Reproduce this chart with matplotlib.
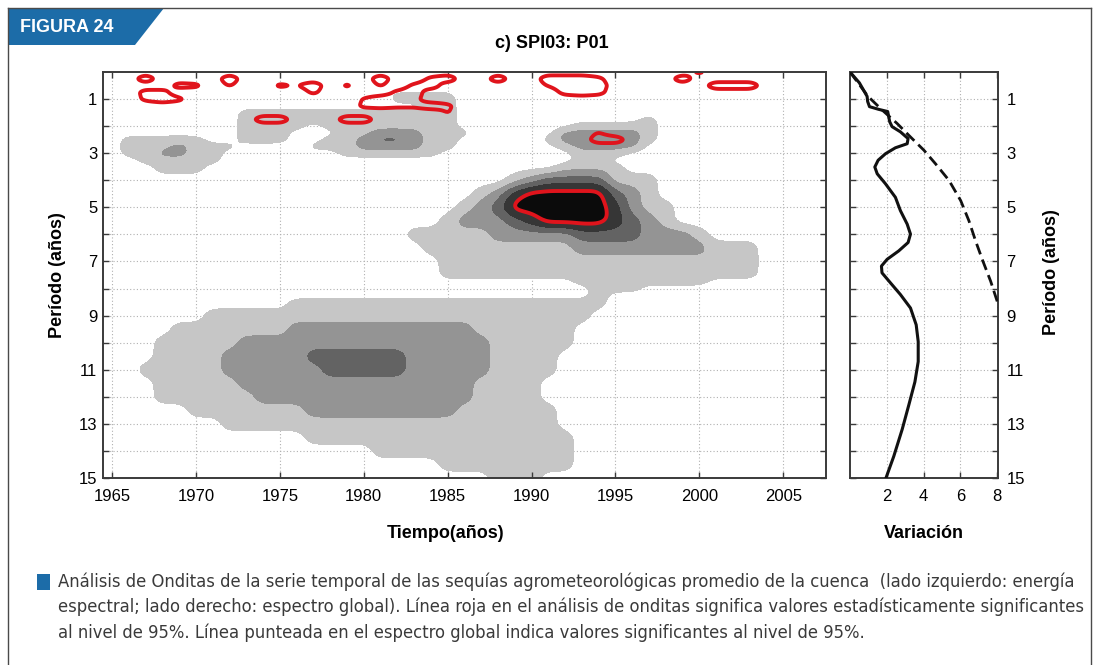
import numpy as np
import matplotlib
matplotlib.use('Agg')
import matplotlib.pyplot as plt
from matplotlib import font_manager
from matplotlib.patches import Polygon, Rectangle
from matplotlib.lines import Line2D

plt.rcParams['font.family'] = ['Liberation Sans', 'DejaVu Sans']

# ---------------- data ----------------
# columns of the wavelet maps: one per year, 1964..2008 (blocks of 5 years)
years = np.arange(1964, 2009)

# wavelet power class (0 white .. 5 black), one string per period row
periods = [0, 0.5, 1, 1.25, 1.5, 1.75, 2, 2.25, 2.5, 2.75, 3, 3.25, 3.5,
           4, 4.5, 5, 5.5, 6, 6.5, 7, 7.5, 7.75, 8, 8.25, 8.5,
           9, 9.5, 10, 10.5, 11, 11.5, 12, 12.5, 13, 13.5, 14, 14.5, 15]
power_rows = [
    "00000 00000 00000 00000 00000 00000 00000 00000 00000",  # 0
    "00000 00000 00000 00000 00000 00000 00000 00000 00000",  # 0.5
    "00000 00000 00000 00011 11000 00000 00000 00000 00000",  # 1
    "00000 00000 00000 00000 11000 00000 00000 00000 00000",  # 1.25
    "00000 00001 11111 11111 11000 00000 00000 00000 00000",  # 1.5
    "00000 00001 11111 11111 11000 00000 00010 00000 01000",  # 1.75
    "00000 00001 11101 11111 11000 00001 11110 00000 00000",  # 2
    "00000 00001 11000 11222 11100 00022 22210 00000 00000",  # 2.25
    "00111 11001 11001 12332 11000 00122 22210 00000 00000",  # 2.5
    "00111 21110 00011 12222 11000 00012 22200 00000 00000",  # 2.75
    "00112 21100 00000 11111 10000 00001 11000 00000 00000",  # 3
    "00011 11100 00000 00000 00000 00001 10000 00000 00000",  # 3.25
    "00001 11000 00000 00000 00000 00011 11000 00000 00000",  # 3.5
    "00000 00000 00000 00000 00000 12333 31110 00000 00000",  # 4
    "00000 00000 00000 00000 00012 45555 53210 00000 00000",  # 4.5
    "00000 00000 00000 00000 00123 55555 54211 00000 00000",  # 5
    "00000 00000 00000 00000 01222 34555 54321 00000 00000",  # 5.5
    "00000 00000 00000 00001 11112 22223 33322 21000 00000",  # 6
    "00000 00000 00000 00000 11111 11112 22222 22111 00000",  # 6.5
    "00000 00000 00000 00000 01111 11111 11111 11111 00000",  # 7
    "00000 00000 00000 00000 01111 11111 11111 11111 00000",  # 7.5
    "00000 00000 00000 00000 00000 00001 11111 11000 00000",  # 7.75
    "00000 00000 00000 00000 00000 00000 11100 00000 00000",  # 8
    "00000 00000 00000 00000 00000 00000 10000 00000 00000",  # 8.25
    "00000 00000 00111 11111 11111 11111 10000 00000 00000",  # 8.5
    "00000 00111 11111 11111 11111 11111 00000 00000 00000",  # 9
    "00000 11111 11222 22222 22211 11110 00000 00000 00000",  # 9.5
    "00001 11112 22222 22222 22221 11110 00000 00000 00000",  # 10
    "00001 11122 22233 33332 22221 11100 00000 00000 00000",  # 10.5
    "00011 11122 22223 33332 22221 11100 00000 00000 00000",  # 11
    "00001 11112 22222 22222 22211 11000 00000 00000 00000",  # 11.5
    "00001 11111 22222 22222 22211 11000 00000 00000 00000",  # 12
    "00000 01111 11122 22222 22111 11100 00000 00000 00000",  # 12.5
    "00000 00011 11111 11111 11111 11100 00000 00000 00000",  # 13
    "00000 00000 00011 11111 11111 11110 00000 00000 00000",  # 13.5
    "00000 00000 00000 00111 11111 11110 00000 00000 00000",  # 14
    "00000 00000 00000 00000 01111 11110 00000 00000 00000",  # 14.5
    "00000 00000 00000 00000 00001 11000 00000 00000 00000",  # 15
]

# 95% significance strength (0..9, contour at 4.5) in the short periods
sig_periods = [0, 0.25, 0.5, 0.75, 1, 1.25, 1.5, 1.75, 2, 2.25, 2.5, 2.75, 3]
sig_rows = [
    "00000 00000 00000 00000 00000 00000 00000 06000 00000",  # 0
    "00090 00090 00000 00900 69009 00999 60000 90000 00000",  # 0.25
    "00000 76050 06490 60506 90000 00599 90000 00999 00000",  # 0.5
    "00077 00000 00060 00069 00000 00079 70000 00000 00000",  # 0.75
    "00069 60000 00000 05997 00000 00000 00000 00000 00000",  # 1
    "00000 00000 00000 06766 96000 00000 00000 00000 00000",  # 1.25
    "00000 00000 00000 00000 05000 00000 00000 00000 00000",  # 1.5
    "00000 00000 99000 99000 00000 00000 00000 00000 00000",  # 1.75
    "00000 00000 00000 00000 00000 00000 00000 00000 00000",  # 2
    "00000 00000 00000 00000 00000 00000 50000 00000 00000",  # 2.25
    "00000 00000 00000 00000 00000 00000 99000 00000 00000",  # 2.5
    "00000 00000 00000 00000 00000 00000 00000 00000 00000",  # 2.75
    "00000 00000 00000 00000 00000 00000 00000 00000 00000",  # 3
]

# global wavelet spectrum (solid) and 95% significance (dashed)
gws_period = [0.0, 0.40, 0.90, 1.09, 1.28, 1.38, 1.46, 1.84, 2.02, 2.21, 2.46,
              2.65, 2.80, 3.02, 3.26, 3.51, 3.76, 4.13, 4.63, 5.12, 5.62, 5.99,
              6.30, 6.61, 6.92, 7.17, 7.42, 7.79, 8.22, 8.72, 9.34, 9.96, 10.7,
              11.45, 12.3, 13.2, 14.2, 15.05]
gws_var = [0.0, 0.51, 0.93, 0.96, 1.06, 1.56, 2.05, 2.16, 2.29, 2.74, 3.16,
           3.11, 2.47, 1.93, 1.53, 1.35, 1.48, 1.93, 2.47, 2.74, 3.11, 3.29,
           3.16, 2.65, 2.02, 1.71, 1.74, 2.2, 2.74, 3.29, 3.6, 3.71, 3.71,
           3.53, 3.2, 2.84, 2.38, 1.93]
signif_period = [0.0, 0.9, 1.4, 1.9, 2.4, 2.89, 3.39, 4.0, 4.75, 5.5, 6.24,
                 6.99, 7.73, 8.48, 9.2]
signif_var = [0.0, 0.98, 1.74, 2.56, 3.29, 4.02, 4.65, 5.38, 6.02, 6.47, 6.83,
              7.23, 7.65, 8.01, 8.38]

caption = [
    "Análisis de Onditas de la serie temporal de las sequías agrometeorológicas promedio de la cuenca  (lado izquierdo: energía",
    "espectral; lado derecho: espectro global). Línea roja en el análisis de onditas significa valores estadísticamente significantes",
    "al nivel de 95%. Línea punteada en el espectro global indica valores significantes al nivel de 95%.",
]


def to_grid(rows):
    g = np.array([[int(c) for c in r.replace(' ', '')] for r in rows], float)
    assert g.shape[1] == len(years)
    return g


def smooth_field(xs, ys, grid, dx, dy, sx, sy):
    # resample the class map on a fine mesh and soften its corners,
    # so the filled contours come out rounded like the original plot
    fxs = np.arange(xs[0], xs[-1] + 1e-9, dx)
    fys = np.arange(ys[0], ys[-1] + 1e-9, dy)
    tmp = np.array([np.interp(fxs, xs, row) for row in grid])
    fine = np.array([np.interp(fys, ys, col) for col in tmp.T]).T
    for axis, s in ((1, sx), (0, sy)):
        n = int(3 * s) + 1
        k = np.exp(-0.5 * (np.arange(-n, n + 1) / s) ** 2)
        k /= k.sum()
        fine = np.apply_along_axis(
            lambda r: np.convolve(np.pad(r, n, mode='edge'), k, 'valid'), axis, fine)
    return fxs, fys, fine


power = to_grid(power_rows)
sig = to_grid(sig_rows)
assert power.shape[0] == len(periods) and sig.shape[0] == len(sig_periods)

px_, py_, power_f = smooth_field(years, periods, power, 0.1, 0.05, 3.0, 3.0)
sx_, sy_, sig_f = smooth_field(years, sig_periods, sig, 0.1, 0.025, 1.5, 1.5)

# ---------------- layout helpers (pixels of the 1099x665 picture) ----------------
W, H = 1099, 665
def fx(px): return px / W
def fy(py): return 1 - py / H

fig = plt.figure(figsize=(W / 100, H / 100), dpi=100)
spine_col = '#3a3a3a'
red = '#e0141c'
grays = ['#c6c6c6', '#949494', '#636363', '#363636', '#0b0b0b']
grid_kw = dict(color='#b0b0b0', lw=0.8, ls=(0, (1, 2)), zorder=0.5)

# ---------------- left: wavelet power ----------------
ax = fig.add_axes([fx(103), fy(478), fx(826) - fx(103), fy(72) - fy(478)])
for yr in range(1965, 2006, 5):
    ax.axvline(yr, **grid_kw)
for p in range(1, 15):
    ax.axhline(p, **grid_kw)
ax.contourf(px_, py_, power_f, levels=[0.5, 1.5, 2.5, 3.5, 4.5, 5.5],
            colors=grays, zorder=1)
ax.contour(px_, py_, power_f, levels=[4.5], colors=red, linewidths=2.8, zorder=2)
ax.contour(sx_, sy_, sig_f, levels=[4.5], colors=red, linewidths=2.8, zorder=2)
ax.set_xlim(1964.46, 2007.55)
ax.set_ylim(15, 0)
ax.set_xticks(range(1965, 2006, 5))
ax.set_yticks(range(1, 16))
ax.set_yticklabels([str(i) if i % 2 else '' for i in range(1, 16)])
ax.tick_params(direction='in', length=4, width=1, colors=spine_col, labelcolor='black',
               labelsize=12, top=True, right=True)
ax.tick_params(axis='x', pad=8)
ax.tick_params(axis='y', pad=4)

# ---------------- right: global spectrum ----------------
ax2 = fig.add_axes([fx(850), fy(478), fx(998) - fx(850), fy(72) - fy(478)])
for v in (2, 4, 6):
    ax2.axvline(v, **grid_kw)
for p in range(1, 15):
    ax2.axhline(p, **grid_kw)
ax2.plot(gws_var, gws_period, color='#111111', lw=2.2, zorder=3,
         solid_joinstyle='round')
ax2.plot(signif_var, signif_period, color='#111111', lw=2.0, ls=(0, (4, 2)), zorder=3)
ax2.set_xlim(0, 8.05)
ax2.set_ylim(15, 0)
ax2.set_xticks([2, 4, 6, 8])
ax2.set_yticks(range(1, 16))
ax2.set_yticklabels([str(i) if i % 2 else '' for i in range(1, 16)])
ax2.tick_params(direction='in', length=4, width=1, colors=spine_col, labelcolor='black',
                labelsize=12, top=True, right=True, left=True,
                labelleft=False, labelright=True)
ax2.tick_params(axis='x', pad=8)
ax2.tick_params(axis='y', pad=6)

for a in (ax, ax2):
    for s in a.spines.values():
        s.set_color(spine_col)
        s.set_linewidth(1.4)

# ---------------- texts ----------------
fig.text(fx(552), fy(43), 'c) SPI03: P01', fontsize=13, fontweight='bold',
         ha='center', va='center')
fig.text(fx(446), fy(533), 'Tiempo(años)', fontsize=13, fontweight='bold',
         ha='center', va='center')
fig.text(fx(924), fy(533), 'Variación', fontsize=13, fontweight='bold',
         ha='center', va='center')
fig.text(fx(57), fy(275), 'Período (años)', fontsize=13, fontweight='bold',
         rotation=90, ha='center', va='center')
fig.text(fx(1051), fy(272), 'Período (años)', fontsize=13, fontweight='bold',
         rotation=90, ha='center', va='center')

# frame and "FIGURA 24" banner
frame_col = '#4a4a4a'
fig.add_artist(Line2D([fx(8), fx(8)], [fy(8), 0], transform=fig.transFigure,
                      color=frame_col, lw=1))
fig.add_artist(Line2D([fx(8), fx(1091)], [fy(8), fy(8)], transform=fig.transFigure,
                      color=frame_col, lw=1))
fig.add_artist(Line2D([fx(1091), fx(1091)], [fy(8), 0], transform=fig.transFigure,
                      color=frame_col, lw=1))
fig.add_artist(Polygon([(fx(8), fy(8)), (fx(164), fy(8)), (fx(135), fy(45)), (fx(8), fy(45))],
                       closed=True, transform=fig.transFigure, facecolor='#1c6ca8',
                       edgecolor='none'))
fig.text(fx(20), fy(27), 'FIGURA 24', color='white', fontsize=13, fontweight='bold',
         ha='left', va='center')

# caption with blue square
fig.add_artist(Rectangle((fx(37), fy(590)), fx(13), fy(574) - fy(590),
                         transform=fig.transFigure, facecolor='#1c6ca8', edgecolor='none'))
names = {f.name for f in font_manager.fontManager.ttflist}
cap_kw = dict(color='#3a3a3a', ha='left', va='center')
if 'Liberation Sans Narrow' in names:
    cap_kw['family'] = ['Liberation Sans Narrow', 'DejaVu Sans']
else:
    cap_kw['family'] = ['DejaVu Sans']
    cap_kw['fontstretch'] = 'condensed'
renderer = fig.canvas.get_renderer()
widths = []
for line in caption[:2]:
    probe = fig.text(0, 0, line, fontsize=12, **cap_kw)
    widths.append(probe.get_window_extent(renderer).width)
    probe.remove()
cap_size = 12 * 1027 / max(widths)
for line, yy in zip(caption, (582, 607, 633)):
    fig.text(fx(58), fy(yy), line, fontsize=cap_size, **cap_kw)

fig.savefig('out.png', dpi=100)
